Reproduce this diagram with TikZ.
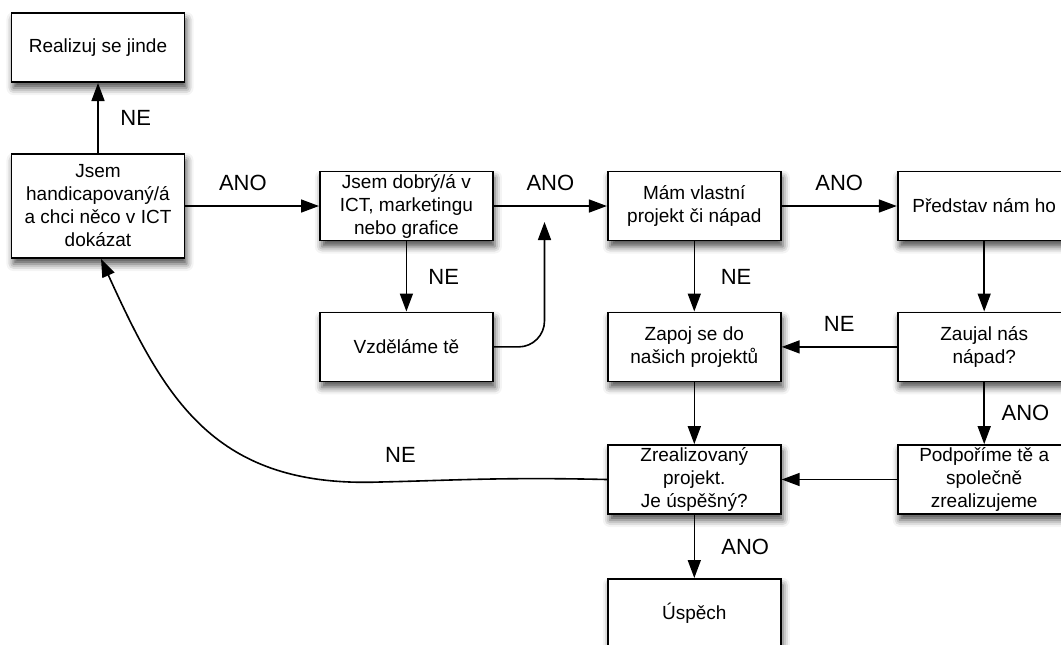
\documentclass[tikz,border=0pt]{standalone}
\usepackage{fontspec}
\setmainfont{Liberation Sans}
\usepackage{tikz}
\usetikzlibrary{positioning}
\usetikzlibrary{arrows.meta}
\usetikzlibrary{shadows.blur}
\tikzset{%
  mybox/.style={rectangle, draw=black, line width=0.9pt, fill=white,
    minimum width=86.5pt, minimum height=34.5pt, inner sep=1pt, align=center,
    font=\fontsize{9.5}{11.5}\selectfont,
    blur shadow={shadow xshift=1pt, shadow yshift=-3pt, shadow blur radius=3.5pt, shadow opacity=70}},
  myedge/.style={-{Triangle[length=9pt, width=6.5pt]}, line width=0.8pt},
  mylabel/.style={font=\fontsize{11}{13}\selectfont}
}

\begin{document}
\begin{tikzpicture}[x=0.5pt, y=-0.5pt]
  \useasboundingbox (0,0) rectangle (1061,644);
  \node[mybox, minimum height=52pt] (a1) at (98,206) {Jsem\\handicapovaný/á\\a chci něco v ICT\\dokázat};
  \node[mybox, above=61.5pt] (a0) at (a1) {Realizuj se jinde};
  \node[mybox, right=110.5pt] (b1) at (a1) {Jsem dobrý/á v\\ICT, marketingu\\nebo grafice};
  \node[mybox, below=52.75pt] (b2) at (b1) {Vzděláme tě};
  \node[mybox, right=100.25pt] (c1) at (b1) {Mám vlastní\\projekt či nápad};
  \node[mybox, below=52.75pt] (c2) at (c1) {Zapoj se do\\našich projektů};
  \node[mybox, below=48.6pt] (c3) at (c2) {Zrealizovaný\\projekt.\\Je úspěšný?};
  \node[mybox, below=49.25pt] (c4) at (c3) {Úspěch};
  \node[mybox, right=101.25pt] (d1) at (c1) {Představ nám ho};
  \node[mybox, below=52.75pt] (d2) at (d1) {Zaujal nás\\nápad?};
  \node[mybox, below=48.6pt] (d3) at (d2) {Podpoříme tě a\\společně\\zrealizujeme};
  \draw [myedge] (a1) -- (a0) node [mylabel, midway, right=7.5pt] {NE};
  \draw [myedge] (a1) -- (b1) node [mylabel, pos=0.43, above=4pt] {ANO};
  \draw [myedge] (b1) -- (c1) node [mylabel, midway, above=4pt] {ANO};
  \draw [myedge] (c1) -- (d1) node [mylabel, midway, above=4pt] {ANO};
  \draw [myedge] (b1) -- (b2) node [mylabel, midway, right=7.3pt] {NE};
  \draw [myedge] (c1) -- (c2) node [mylabel, midway, right=9.5pt] {NE};
  \draw [myedge] (d1) -- (d2);
  \draw [myedge] (d2) -- (c2) node [mylabel, midway, above=4pt] {NE};
  \draw [myedge] (d2) -- (d3) node [mylabel, midway, right=5pt] {ANO};
  \draw [myedge] (c2) -- (c3);
  \draw [myedge] (d3) -- (c3);
  \draw [myedge] (c3) -- (c4) node [mylabel, midway, right=9.8pt] {ANO};
  \coordinate (t1) at (544.5,222);
  \draw [myedge, rounded corners=13pt] (b2) -| (t1);
  \draw [myedge] (c3.west) .. controls (500,477) and (450,480.5) .. (380,482)
    node [mylabel, pos=0.9, above=6pt] {NE}
    .. controls (215,488) and (165,400) .. ([xshift=1.5pt]a1.south);
\end{tikzpicture}
\end{document}
